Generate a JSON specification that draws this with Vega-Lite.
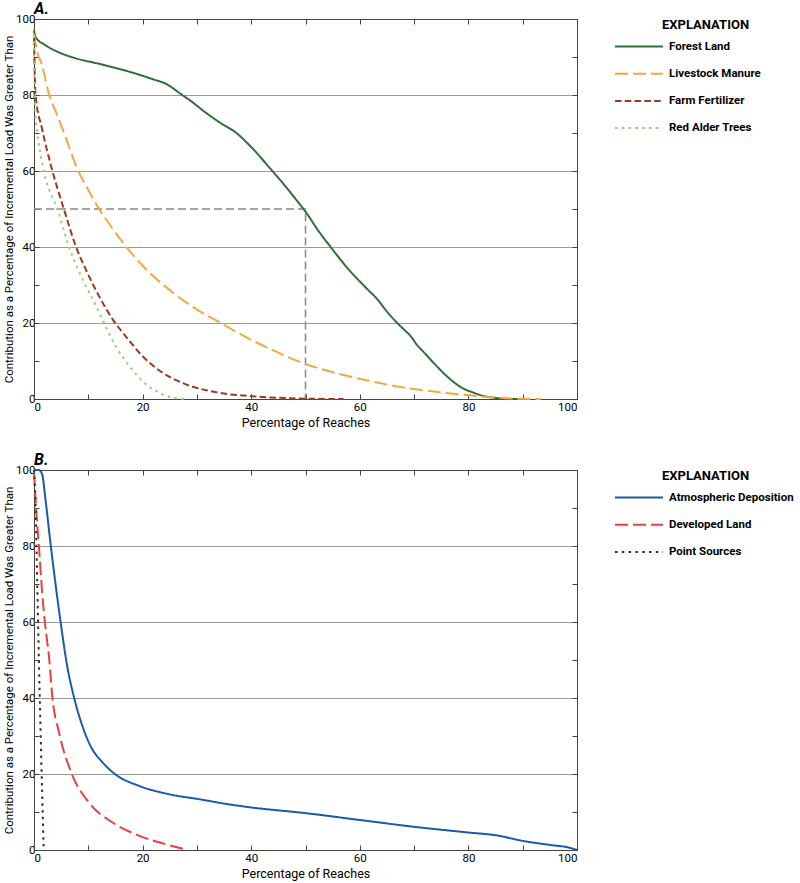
{
  "$schema": "https://vega.github.io/schema/vega-lite/v6.json",
  "padding": {"left": 3, "top": 0, "right": 0, "bottom": 0},
  "background": "white",
  "config": {
    "font": "Roboto, Liberation Sans, sans-serif",
    "view": {"stroke": "#444", "strokeWidth": 1},
    "axis": {
      "domainColor": "#444",
      "tickColor": "#444",
      "tickSize": -5,
      "labelFontSize": 11.5,
      "labelColor": "#000",
      "titleFontSize": 11.5,
      "titleFontWeight": "normal",
      "titleColor": "#000",
      "gridColor": "#999",
      "gridWidth": 1
    },
    "legend": {
      "orient": "none",
      "legendX": 628,
      "legendY": 0,
      "titleFontSize": 13,
      "titleFontWeight": "bold",
      "titleColor": "#000",
      "labelFontSize": 11.5,
      "labelFontWeight": "bold",
      "labelColor": "#000",
      "symbolType": "M-9,0H-1",
      "symbolSize": 144,
      "symbolStrokeWidth": 2,
      "labelOffset": -7,
      "rowPadding": 14.2,
      "titlePadding": 7.5,
      "padding": 0
    },
    "title": {"anchor": "start", "frame": "group", "fontSize": 16, "fontWeight": "bold", "fontStyle": "italic", "offset": -4, "color": "#000"}
  },
  "datasets": {
    "A": [
      {"series": "Forest Land", "x": 0, "y": 97},
      {"series": "Forest Land", "x": 0.3, "y": 95.2},
      {"series": "Forest Land", "x": 2, "y": 93.2},
      {"series": "Forest Land", "x": 4.6, "y": 91.2},
      {"series": "Forest Land", "x": 7.1, "y": 89.9},
      {"series": "Forest Land", "x": 12, "y": 88.2},
      {"series": "Forest Land", "x": 16.9, "y": 86.4},
      {"series": "Forest Land", "x": 21.8, "y": 84.2},
      {"series": "Forest Land", "x": 24.5, "y": 82.8},
      {"series": "Forest Land", "x": 27, "y": 80.3},
      {"series": "Forest Land", "x": 29, "y": 78.3},
      {"series": "Forest Land", "x": 31.6, "y": 75.4},
      {"series": "Forest Land", "x": 34.5, "y": 72.5},
      {"series": "Forest Land", "x": 37.1, "y": 70.2},
      {"series": "Forest Land", "x": 40, "y": 66.3},
      {"series": "Forest Land", "x": 43.6, "y": 60.5},
      {"series": "Forest Land", "x": 46, "y": 56.5},
      {"series": "Forest Land", "x": 48.2, "y": 52.6},
      {"series": "Forest Land", "x": 50, "y": 49.3},
      {"series": "Forest Land", "x": 52.5, "y": 44},
      {"series": "Forest Land", "x": 54.9, "y": 39.5},
      {"series": "Forest Land", "x": 58, "y": 34},
      {"series": "Forest Land", "x": 61.4, "y": 28.9},
      {"series": "Forest Land", "x": 63.2, "y": 26.3},
      {"series": "Forest Land", "x": 65, "y": 23},
      {"series": "Forest Land", "x": 66.9, "y": 20},
      {"series": "Forest Land", "x": 68.2, "y": 18.2},
      {"series": "Forest Land", "x": 69.4, "y": 16.5},
      {"series": "Forest Land", "x": 70.5, "y": 14.3},
      {"series": "Forest Land", "x": 72, "y": 12},
      {"series": "Forest Land", "x": 73.4, "y": 9.8},
      {"series": "Forest Land", "x": 77, "y": 4.8},
      {"series": "Forest Land", "x": 79, "y": 2.8},
      {"series": "Forest Land", "x": 80.7, "y": 1.8},
      {"series": "Forest Land", "x": 82.5, "y": 0.9},
      {"series": "Forest Land", "x": 84.4, "y": 0.4},
      {"series": "Forest Land", "x": 86.5, "y": 0.1},
      {"series": "Forest Land", "x": 88.7, "y": 0},
      {"series": "Forest Land", "x": 90, "y": 0},
      {"series": "Livestock Manure", "x": 0, "y": 96},
      {"series": "Livestock Manure", "x": 0.5, "y": 92},
      {"series": "Livestock Manure", "x": 1.5, "y": 87.7},
      {"series": "Livestock Manure", "x": 2.8, "y": 80},
      {"series": "Livestock Manure", "x": 4.2, "y": 75},
      {"series": "Livestock Manure", "x": 5.8, "y": 69},
      {"series": "Livestock Manure", "x": 8, "y": 60.5},
      {"series": "Livestock Manure", "x": 10, "y": 55},
      {"series": "Livestock Manure", "x": 12, "y": 50},
      {"series": "Livestock Manure", "x": 14, "y": 45.8},
      {"series": "Livestock Manure", "x": 16.9, "y": 40.2},
      {"series": "Livestock Manure", "x": 20.6, "y": 34.2},
      {"series": "Livestock Manure", "x": 25.5, "y": 28.1},
      {"series": "Livestock Manure", "x": 29.8, "y": 23.7},
      {"series": "Livestock Manure", "x": 34.4, "y": 20},
      {"series": "Livestock Manure", "x": 39, "y": 16.3},
      {"series": "Livestock Manure", "x": 43.3, "y": 13.3},
      {"series": "Livestock Manure", "x": 50, "y": 9.2},
      {"series": "Livestock Manure", "x": 56.2, "y": 6.6},
      {"series": "Livestock Manure", "x": 62.3, "y": 4.6},
      {"series": "Livestock Manure", "x": 68.5, "y": 2.9},
      {"series": "Livestock Manure", "x": 74.6, "y": 1.8},
      {"series": "Livestock Manure", "x": 80.7, "y": 0.9},
      {"series": "Livestock Manure", "x": 86.9, "y": 0.2},
      {"series": "Livestock Manure", "x": 90, "y": 0.05},
      {"series": "Livestock Manure", "x": 93.3, "y": 0},
      {"series": "Farm Fertilizer", "x": 0, "y": 95},
      {"series": "Farm Fertilizer", "x": 0.15, "y": 85},
      {"series": "Farm Fertilizer", "x": 0.3, "y": 80},
      {"series": "Farm Fertilizer", "x": 1.5, "y": 71},
      {"series": "Farm Fertilizer", "x": 3.2, "y": 61},
      {"series": "Farm Fertilizer", "x": 5.5, "y": 50},
      {"series": "Farm Fertilizer", "x": 7.7, "y": 40.2},
      {"series": "Farm Fertilizer", "x": 9.8, "y": 33.3},
      {"series": "Farm Fertilizer", "x": 12, "y": 27},
      {"series": "Farm Fertilizer", "x": 14.7, "y": 20.5},
      {"series": "Farm Fertilizer", "x": 16.9, "y": 16.5},
      {"series": "Farm Fertilizer", "x": 19.9, "y": 11.4},
      {"series": "Farm Fertilizer", "x": 23.6, "y": 7},
      {"series": "Farm Fertilizer", "x": 27.9, "y": 3.9},
      {"series": "Farm Fertilizer", "x": 33.5, "y": 1.8},
      {"series": "Farm Fertilizer", "x": 41.4, "y": 0.6},
      {"series": "Farm Fertilizer", "x": 47, "y": 0.2},
      {"series": "Farm Fertilizer", "x": 52, "y": 0.05},
      {"series": "Farm Fertilizer", "x": 57, "y": 0},
      {"series": "Red Alder Trees", "x": 0, "y": 96},
      {"series": "Red Alder Trees", "x": 0.1, "y": 85},
      {"series": "Red Alder Trees", "x": 0.3, "y": 74},
      {"series": "Red Alder Trees", "x": 0.6, "y": 70.2},
      {"series": "Red Alder Trees", "x": 1.8, "y": 60},
      {"series": "Red Alder Trees", "x": 4.3, "y": 50},
      {"series": "Red Alder Trees", "x": 6.4, "y": 40.2},
      {"series": "Red Alder Trees", "x": 8.9, "y": 31.6},
      {"series": "Red Alder Trees", "x": 11.4, "y": 24.6},
      {"series": "Red Alder Trees", "x": 12.9, "y": 20},
      {"series": "Red Alder Trees", "x": 15, "y": 14},
      {"series": "Red Alder Trees", "x": 17.5, "y": 8.8},
      {"series": "Red Alder Trees", "x": 20.6, "y": 3.9},
      {"series": "Red Alder Trees", "x": 23.6, "y": 1.3},
      {"series": "Red Alder Trees", "x": 26.1, "y": 0.2},
      {"series": "Red Alder Trees", "x": 28, "y": 0}
    ],
    "refA": [
      {"step": 1, "x": 0, "y": 50},
      {"step": 2, "x": 50, "y": 50},
      {"step": 3, "x": 50, "y": 0}
    ],
    "B": [
      {"series": "Atmospheric Deposition", "x": 0, "y": 100},
      {"series": "Atmospheric Deposition", "x": 0.9, "y": 100},
      {"series": "Atmospheric Deposition", "x": 1.5, "y": 98.9},
      {"series": "Atmospheric Deposition", "x": 2.1, "y": 92.4},
      {"series": "Atmospheric Deposition", "x": 3.1, "y": 80},
      {"series": "Atmospheric Deposition", "x": 4, "y": 69.6},
      {"series": "Atmospheric Deposition", "x": 4.9, "y": 60},
      {"series": "Atmospheric Deposition", "x": 6.1, "y": 48.5},
      {"series": "Atmospheric Deposition", "x": 7.4, "y": 40},
      {"series": "Atmospheric Deposition", "x": 8.9, "y": 32.7},
      {"series": "Atmospheric Deposition", "x": 10.4, "y": 27.4},
      {"series": "Atmospheric Deposition", "x": 12.6, "y": 23.1},
      {"series": "Atmospheric Deposition", "x": 15, "y": 19.9},
      {"series": "Atmospheric Deposition", "x": 19.3, "y": 16.9},
      {"series": "Atmospheric Deposition", "x": 24.8, "y": 14.7},
      {"series": "Atmospheric Deposition", "x": 30.7, "y": 13.3},
      {"series": "Atmospheric Deposition", "x": 35.5, "y": 12.1},
      {"series": "Atmospheric Deposition", "x": 40, "y": 11.2},
      {"series": "Atmospheric Deposition", "x": 50, "y": 9.7},
      {"series": "Atmospheric Deposition", "x": 60, "y": 7.9},
      {"series": "Atmospheric Deposition", "x": 70, "y": 6.1},
      {"series": "Atmospheric Deposition", "x": 80, "y": 4.6},
      {"series": "Atmospheric Deposition", "x": 85.4, "y": 3.8},
      {"series": "Atmospheric Deposition", "x": 90, "y": 2.4},
      {"series": "Atmospheric Deposition", "x": 95.2, "y": 1.3},
      {"series": "Atmospheric Deposition", "x": 98.3, "y": 0.7},
      {"series": "Atmospheric Deposition", "x": 100, "y": 0},
      {"series": "Developed Land", "x": 0, "y": 99.4},
      {"series": "Developed Land", "x": 0.4, "y": 89.7},
      {"series": "Developed Land", "x": 0.9, "y": 80},
      {"series": "Developed Land", "x": 1.5, "y": 67.8},
      {"series": "Developed Land", "x": 2, "y": 60},
      {"series": "Developed Land", "x": 2.8, "y": 50.3},
      {"series": "Developed Land", "x": 3.4, "y": 40},
      {"series": "Developed Land", "x": 4.6, "y": 31},
      {"series": "Developed Land", "x": 7, "y": 19.9},
      {"series": "Developed Land", "x": 10.1, "y": 12.5},
      {"series": "Developed Land", "x": 14.4, "y": 7.3},
      {"series": "Developed Land", "x": 19.3, "y": 3.8},
      {"series": "Developed Land", "x": 24.8, "y": 1.3},
      {"series": "Developed Land", "x": 28.3, "y": 0},
      {"series": "Point Sources", "x": 0, "y": 100},
      {"series": "Point Sources", "x": 0.3, "y": 90},
      {"series": "Point Sources", "x": 0.6, "y": 70},
      {"series": "Point Sources", "x": 0.9, "y": 50},
      {"series": "Point Sources", "x": 1.2, "y": 32},
      {"series": "Point Sources", "x": 1.5, "y": 15},
      {"series": "Point Sources", "x": 1.8, "y": 0}
    ]
  },
  "spacing": 21,
  "resolve": {"scale": {"color": "independent", "strokeDash": "independent"}, "legend": {"color": "independent", "strokeDash": "independent"}},
  "vconcat": [
    {
      "width": 543,
      "height": 380,
      "title": {"text": "A."},
      "layer": [
        {
          "data": {"name": "refA"},
          "mark": {"type": "line", "color": "#888", "strokeDash": [8, 4], "strokeWidth": 1.5},
          "encoding": {
            "x": {"field": "x", "type": "quantitative", "scale": {"domain": [0, 100], "nice": false},
              "axis": {"orient": "top", "values": [0, 10, 20, 30, 40, 50, 60, 70, 80, 90, 100], "labels": false, "title": null, "grid": false}},
            "y": {"field": "y", "type": "quantitative", "scale": {"domain": [0, 100], "nice": false},
              "axis": {"orient": "right", "values": [0, 10, 20, 30, 40, 50, 60, 70, 80, 90, 100], "labels": false, "title": null, "grid": false}},
            "order": {"field": "step", "type": "quantitative"}
          }
        },
        {
          "data": {"name": "A"},
          "mark": {"type": "line", "strokeWidth": 2, "interpolate": "monotone"},
          "encoding": {
            "x": {"field": "x", "type": "quantitative", "scale": {"domain": [0, 100], "nice": false},
              "axis": {"orient": "bottom", "values": [0, 10, 20, 30, 40, 50, 60, 70, 80, 90, 100], "labelExpr": "datum.value % 20 === 0 ? datum.label : ''", "grid": false, "title": "Percentage of Reaches", "titleFontSize": 12.5, "labelPadding": 7, "titlePadding": 4}},
            "y": {"field": "y", "type": "quantitative", "scale": {"domain": [0, 100], "nice": false},
              "axis": {"orient": "left", "values": [0, 10, 20, 30, 40, 50, 60, 70, 80, 90, 100], "labelExpr": "datum.value % 20 === 0 ? datum.label : ''", "grid": true,
                "gridOpacity": {"condition": {"test": "datum.value % 20 === 0 && datum.value > 0 && datum.value < 100", "value": 1}, "value": 0},
                "title": "Contribution as a Percentage of Incremental Load Was Greater Than", "labelPadding": 4, "titlePadding": 1}},
            "color": {"field": "series", "type": "nominal",
              "scale": {"domain": ["Forest Land", "Livestock Manure", "Farm Fertilizer", "Red Alder Trees"], "range": ["#2F6F3A", "#F4A844", "#A0381E", "#9DCC72"]},
              "legend": {"title": "EXPLANATION"}},
            "strokeDash": {"field": "series", "type": "nominal",
              "scale": {"domain": ["Forest Land", "Livestock Manure", "Farm Fertilizer", "Red Alder Trees"], "range": [[1, 0], [13, 5], [6.5, 3.3], [2.5, 4.3]]},
              "legend": {"title": "EXPLANATION"}}
          }
        }
      ],
      "resolve": {"axis": {"x": "independent", "y": "independent"}}
    },
    {
      "width": 543,
      "height": 380,
      "title": {"text": "B."},
      "layer": [
        {
          "data": {"name": "B"},
          "transform": [{"filter": "datum.series !== 'Atmospheric Deposition'"}],
          "mark": {"type": "line", "strokeWidth": 2, "interpolate": "monotone"},
          "encoding": {
            "x": {"field": "x", "type": "quantitative", "scale": {"domain": [0, 100], "nice": false},
              "axis": {"orient": "top", "values": [0, 10, 20, 30, 40, 50, 60, 70, 80, 90, 100], "labels": false, "title": null, "grid": false}},
            "y": {"field": "y", "type": "quantitative", "scale": {"domain": [0, 100], "nice": false},
              "axis": {"orient": "right", "values": [0, 10, 20, 30, 40, 50, 60, 70, 80, 90, 100], "labels": false, "title": null, "grid": false}},
            "color": {"field": "series", "type": "nominal",
              "scale": {"domain": ["Atmospheric Deposition", "Developed Land", "Point Sources"], "range": ["#1C5AA8", "#E8413E", "#4A2A20"]},
              "legend": {"title": "EXPLANATION"}},
            "strokeDash": {"field": "series", "type": "nominal",
              "scale": {"domain": ["Atmospheric Deposition", "Developed Land", "Point Sources"], "range": [[1, 0], [13, 5], [2.5, 4.3]]},
              "legend": {"title": "EXPLANATION"}}
          }
        },
        {
          "data": {"name": "B"},
          "transform": [{"filter": "datum.series === 'Atmospheric Deposition'"}],
          "mark": {"type": "line", "strokeWidth": 2, "interpolate": "monotone"},
          "encoding": {
            "x": {"field": "x", "type": "quantitative", "scale": {"domain": [0, 100], "nice": false},
              "axis": {"orient": "bottom", "values": [0, 10, 20, 30, 40, 50, 60, 70, 80, 90, 100], "labelExpr": "datum.value % 20 === 0 ? datum.label : ''", "grid": false, "title": "Percentage of Reaches", "titleFontSize": 12.5, "labelPadding": 7, "titlePadding": 4}},
            "y": {"field": "y", "type": "quantitative", "scale": {"domain": [0, 100], "nice": false},
              "axis": {"orient": "left", "values": [0, 10, 20, 30, 40, 50, 60, 70, 80, 90, 100], "labelExpr": "datum.value % 20 === 0 ? datum.label : ''", "grid": true,
                "gridOpacity": {"condition": {"test": "datum.value % 20 === 0 && datum.value > 0 && datum.value < 100", "value": 1}, "value": 0},
                "title": "Contribution as a Percentage of Incremental Load Was Greater Than", "labelPadding": 4, "titlePadding": 1}},
            "color": {"field": "series", "type": "nominal",
              "scale": {"domain": ["Atmospheric Deposition", "Developed Land", "Point Sources"], "range": ["#1C5AA8", "#E8413E", "#4A2A20"]},
              "legend": {"title": "EXPLANATION"}},
            "strokeDash": {"field": "series", "type": "nominal",
              "scale": {"domain": ["Atmospheric Deposition", "Developed Land", "Point Sources"], "range": [[1, 0], [13, 5], [2.5, 4.3]]},
              "legend": {"title": "EXPLANATION"}}
          }
        }
      ],
      "resolve": {"axis": {"x": "independent", "y": "independent"}}
    }
  ]
}
